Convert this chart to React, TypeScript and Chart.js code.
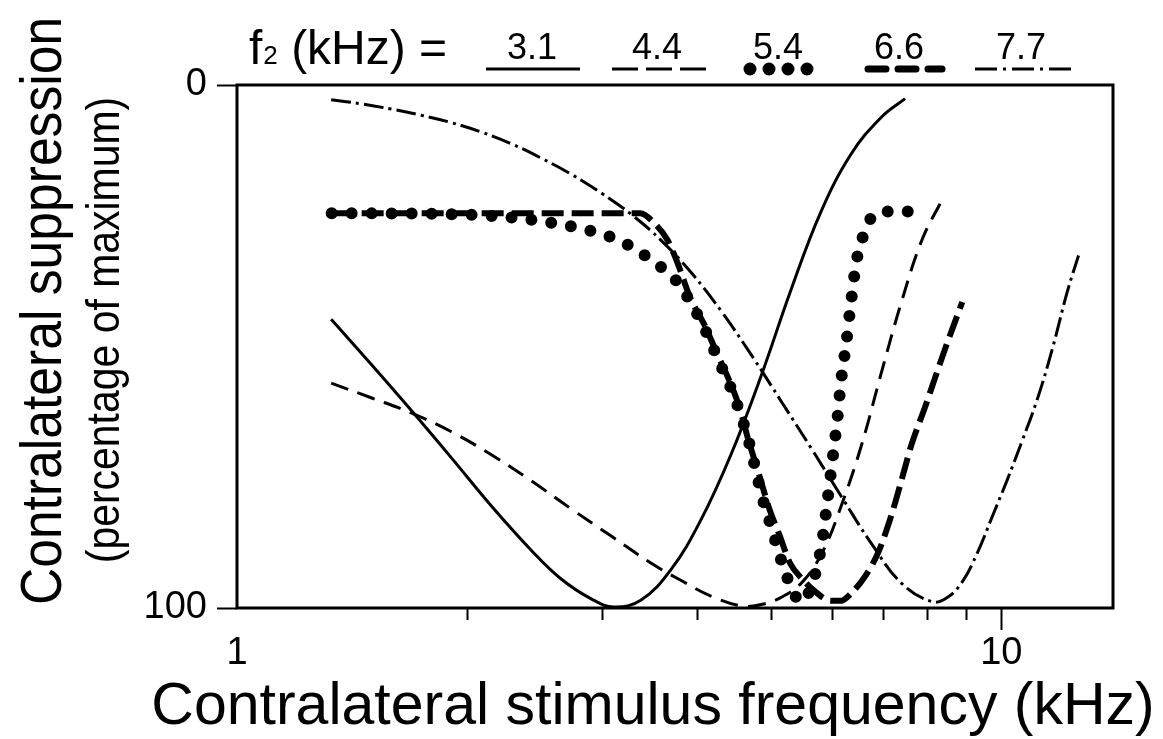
import React, { useEffect, useRef } from "react";
import { Chart, registerables } from "chart.js";

Chart.register(...registerables);

const FONT = '"Liberation Sans", Arial, Helvetica, sans-serif';

// ---- data (frequency in kHz, suppression in % of maximum) ----
const legendTitle = "f";
const legendSub = "2";
const legendRest = " (kHz) =";
const f2Labels = ["3.1", "4.4", "5.4", "6.6", "7.7"];

const xTitle = "Contralateral stimulus frequency (kHz)";
const yTitle1 = "Contralateral suppression";
const yTitle2 = "(percentage of maximum)";

const xTickValues = [1, 2, 3, 4, 5, 6, 7, 8, 9, 10];
const xLabelledTicks = [1, 10];
const xMajorTicks = [10];
const yTickValues = [0, 100];

const freq31 = [1.328, 1.498, 1.69, 1.908, 2.152, 2.428, 2.658, 2.911, 3.111, 3.375, 3.694, 4.044, 4.428, 4.848, 5.306, 5.809, 6.361, 6.961, 7.484];
const supp31 = [44.8, 53.4, 62.2, 71.3, 80.5, 89, 94.5, 98.3, 99.8, 98.5, 92.7, 83.2, 70.7, 55.7, 39.2, 24.2, 13.2, 6.2, 2.6];

const freq44 = [1.328, 1.498, 1.69, 1.908, 2.152, 2.428, 2.74, 3.091, 3.488, 3.818, 4.181, 4.577, 4.862, 5.164, 5.486, 5.826, 6.19, 6.574, 6.982, 7.419, 7.88, 8.37];
const supp44 = [57, 59.8, 62.7, 66.3, 70.7, 75.7, 81.1, 86.3, 91.5, 94.8, 97.8, 99.6, 99.3, 97.9, 95.1, 89.5, 80, 68.5, 54.5, 41, 29.5, 21.9];

const freq54 = [1.33, 2.0, 2.34, 2.81, 3.16, 3.55, 3.76, 4.05, 4.28, 4.49, 4.67, 4.87, 5.0, 5.13, 5.26, 5.47, 5.68, 5.83, 5.92, 6.01, 6.1, 6.17, 6.27, 6.36, 6.46, 6.59, 6.75, 7.08, 7.9];
const supp54 = [24.5, 24.8, 25.5, 27.4, 29.7, 34.3, 37.5, 45.3, 53.1, 60.2, 68, 79, 84.5, 90, 94.6, 98.8, 94.6, 87.2, 79.7, 71.9, 64.1, 56.7, 49.2, 41.4, 33.9, 29, 25.5, 24.2, 24.2];

const freq66 = [1.33, 3.37, 3.52, 3.66, 3.77, 3.92, 4.09, 4.26, 4.4, 4.54, 4.67, 4.82, 4.97, 5.13, 5.29, 5.5, 5.68, 5.98, 6.17, 6.36, 6.63, 6.9, 7.19, 7.48, 7.62, 7.95, 8.19, 8.44, 8.89];
const supp66 = [24.5, 24.5, 26.5, 29.7, 34, 40.8, 45.9, 51.8, 56.3, 61.5, 68, 74.5, 81, 86.2, 91.4, 94.6, 96.6, 98.6, 98.6, 97.2, 94, 89.4, 82, 73.2, 69, 61.5, 56, 50.5, 41.5];

const freq77 = [1.328, 1.454, 1.591, 1.743, 1.908, 2.088, 2.286, 2.502, 2.74, 3.0, 3.284, 3.594, 3.936, 4.309, 4.718, 5.164, 5.654, 6.19, 6.777, 7.419, 8.122, 8.497, 8.89, 9.301, 9.732, 10.18, 10.65, 11.15, 11.66, 12.2, 12.62];
const supp77 = [2.8, 3.6, 4.6, 5.8, 7.2, 9.0, 11.25, 14.0, 17.1, 20.7, 24.8, 29.8, 36.0, 43.4, 51.8, 60.7, 69.7, 78.9, 87.9, 95.4, 98.8, 98, 95, 89.5, 82.5, 75.5, 68, 60, 50.5, 39.5, 32.6];

const toPoints = (fs: number[], vs: number[]) => fs.map((f, i) => ({ x: f, y: vs[i] }));

// ---- styles ----
const STYLES = [
  { width: 3, dash: [] as number[], cap: "butt", mode: "default" },
  { width: 3, dash: [18, 10], cap: "butt", mode: "default" },
  { width: 12, dash: [0, 20], cap: "round", mode: "monotone" },
  { width: 6, dash: [22, 8], cap: "butt", mode: "monotone" },
  { width: 3, dash: [20, 5, 3, 5], cap: "butt", mode: "default" },
];

function drawRotated(ctx: any, text: string, cx: number, cy: number, size: number, squeeze: number) {
  ctx.save();
  ctx.translate(cx, cy);
  ctx.rotate(-Math.PI / 2);
  ctx.scale(squeeze, 1);
  ctx.textAlign = "center";
  ctx.textBaseline = "middle";
  ctx.font = `${size}px ${FONT}`;
  ctx.fillText(text, 0, 0);
  ctx.restore();
}

const decorPlugin = {
  id: "decor",
  afterDraw(chart: any) {
    const { ctx, chartArea: a, scales } = chart;
    const xs = scales.x;
    ctx.save();
    ctx.strokeStyle = "#000";
    ctx.fillStyle = "#000";
    ctx.setLineDash([]);
    // frame
    ctx.lineWidth = 3;
    ctx.lineCap = "butt";
    ctx.strokeRect(a.left, a.top, a.right - a.left, a.bottom - a.top);
    // x tick marks
    ctx.lineWidth = 2;
    for (const t of xs.ticks) {
      if (t.value <= 1) continue;
      const px = Math.round(xs.getPixelForValue(t.value)) + 0.5;
      const len = xMajorTicks.includes(t.value) ? 22 : 12;
      ctx.beginPath();
      ctx.moveTo(px, a.bottom);
      ctx.lineTo(px, a.bottom + len);
      ctx.stroke();
    }
    // titles
    ctx.textAlign = "center";
    ctx.textBaseline = "alphabetic";
    ctx.font = `59px ${FONT}`;
    ctx.fillText(xTitle, 653, 724);

    drawRotated(ctx, yTitle1, 45, 311, 58, 0.89);
    drawRotated(ctx, yTitle2, 106, 330, 46, 0.89);

    // legend
    ctx.textAlign = "left";
    ctx.textBaseline = "alphabetic";
    let lx = 249;
    const ly = 64;
    ctx.font = `48px ${FONT}`;
    ctx.fillText(legendTitle, lx, ly);
    lx += ctx.measureText(legendTitle).width + 1;
    ctx.font = `26px ${FONT}`;
    ctx.fillText(legendSub, lx, ly);
    lx += ctx.measureText(legendSub).width;
    ctx.font = `48px ${FONT}`;
    ctx.fillText(legendRest, lx, ly);

    const centers = [532, 657, 778, 899, 1021];
    const samples: [number, number][] = [
      [486, 580],
      [612, 706],
      [750, 808],
      [868, 942],
      [975, 1073],
    ];
    const legendDash = [[], [26, 8], [0, 19], [18, 12], [22, 6, 3, 6]];
    const legendCap = ["butt", "butt", "round", "round", "butt"];
    const legendWidth = [3, 3, 13, 7, 3];
    ctx.textAlign = "center";
    ctx.font = `36px ${FONT}`;
    const sy = 69;
    f2Labels.forEach((lab, i) => {
      ctx.fillText(lab, centers[i], 59);
      ctx.beginPath();
      ctx.lineWidth = legendWidth[i];
      ctx.lineCap = legendCap[i];
      ctx.setLineDash(legendDash[i]);
      ctx.moveTo(samples[i][0], sy);
      ctx.lineTo(samples[i][1], sy);
      ctx.stroke();
    });
    ctx.restore();
  },
};

export default function App() {
  const ref = useRef<HTMLCanvasElement | null>(null);
  useEffect(() => {
    document.body.style.margin = "0";
    const canvas = ref.current;
    if (!canvas) return;
    const series = [
      toPoints(freq31, supp31),
      toPoints(freq44, supp44),
      toPoints(freq54, supp54),
      toPoints(freq66, supp66),
      toPoints(freq77, supp77),
    ];
    const chart = new Chart(canvas, {
      type: "line",
      data: {
        datasets: series.map((data, i) => ({
          label: f2Labels[i],
          data,
          borderColor: "#000",
          backgroundColor: "#000",
          borderWidth: STYLES[i].width,
          borderDash: STYLES[i].dash,
          borderCapStyle: STYLES[i].cap as any,
          borderJoinStyle: "round" as any,
          pointRadius: 0,
          tension: 0.4,
          cubicInterpolationMode: STYLES[i].mode as any,
          fill: false,
        })),
      },
      options: {
        responsive: false,
        animation: false,
        devicePixelRatio: 1,
        layout: { padding: { left: 0, top: 85, right: 50, bottom: 0 } },
        plugins: { legend: { display: false }, tooltip: { enabled: false }, title: { display: false } },
        scales: {
          x: {
            type: "logarithmic",
            min: 1,
            max: 14,
            afterBuildTicks: (scale: any) => {
              scale.ticks = xTickValues.map((v) => ({ value: v }));
            },
            afterFit: (scale: any) => {
              scale.height = 131;
            },
            grid: { display: false },
            border: { display: false },
            ticks: {
              autoSkip: false,
              maxRotation: 0,
              padding: 15,
              color: "#000",
              font: { family: FONT, size: 38 },
              callback: (v: any) => (xLabelledTicks.includes(Number(v)) ? String(v) : ""),
            },
          },
          y: {
            type: "linear",
            reverse: true,
            min: 0,
            max: 100,
            afterBuildTicks: (scale: any) => {
              scale.ticks = yTickValues.map((v) => ({ value: v }));
            },
            afterFit: (scale: any) => {
              scale.width = 237;
            },
            grid: { drawOnChartArea: false, drawTicks: true, tickLength: 20, tickWidth: 2, tickColor: "#000" },
            border: { display: false },
            ticks: {
              padding: 10,
              color: "#000",
              font: { family: FONT, size: 38 },
              callback: (v: any) => String(v),
            },
          },
        },
      },
      plugins: [decorPlugin],
    });
    return () => chart.destroy();
  }, []);
  return (
    <div style={{ width: 1163, height: 739, background: "#fff" }}>
      <canvas ref={ref} width={1163} height={739} />
    </div>
  );
}
